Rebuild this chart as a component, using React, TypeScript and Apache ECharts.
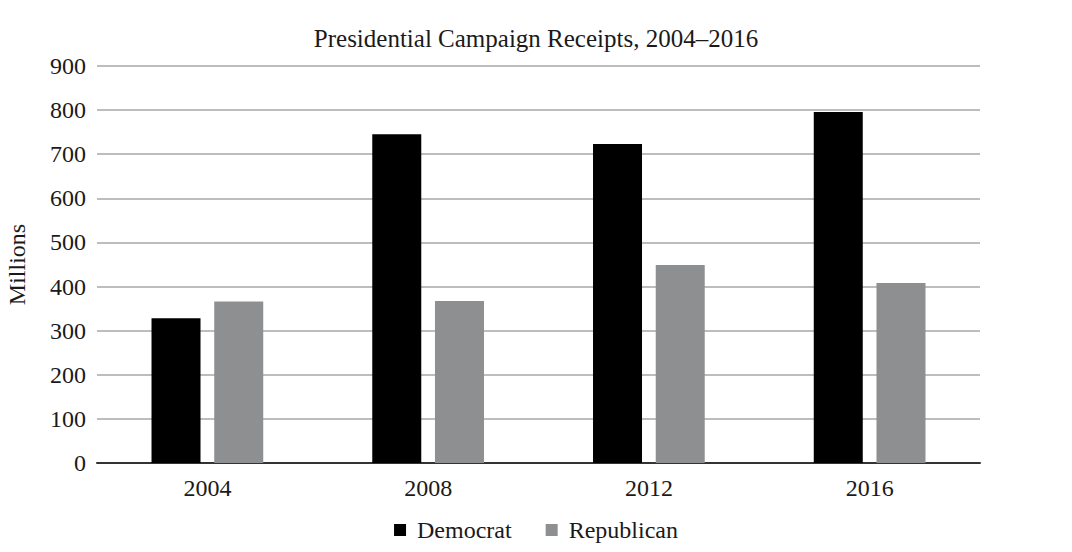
import React, { useEffect, useRef } from "react";
import * as echarts from "echarts";

const categories = ["2004", "2008", "2012", "2016"];
const democrat = [328, 745, 723, 796];
const republican = [366, 367, 449, 408];
const yTicks = { min: 0, max: 900, interval: 100 };

const FONT = "'Liberation Serif', 'Times New Roman', serif";
const TXT = "#1a1a1a";

export default function App() {
  const ref = useRef<HTMLDivElement>(null);
  useEffect(() => {
    if (!ref.current) return;
    const chart = echarts.init(ref.current, undefined, { renderer: "svg" });
    chart.setOption({
      animation: false,
      backgroundColor: "#fff",
      textStyle: { fontFamily: FONT },
      title: {
        text: "Presidential Campaign Receipts, 2004–2016",
        left: "center",
        top: 21,
        textStyle: { fontFamily: FONT, fontSize: 25, fontWeight: "normal", color: TXT },
      },
      legend: {
        top: 518,
        left: "center",
        itemWidth: 12,
        itemHeight: 12,
        itemGap: 34,
        padding: 0,
        icon: "rect",
        textStyle: { fontFamily: FONT, fontSize: 24, color: TXT, padding: [0, 0, 0, 6] },
        data: ["Democrat", "Republican"],
      },
      grid: { left: 97, right: 92, top: 66, bottom: 89, outerBoundsMode: "none", containLabel: false },
      xAxis: {
        type: "category",
        data: categories,
        axisLine: { lineStyle: { color: "#333", width: 2 } },
        axisTick: { show: false },
        axisLabel: { fontFamily: FONT, fontSize: 24, color: TXT, margin: 13 },
      },
      yAxis: {
        type: "value",
        min: yTicks.min,
        max: yTicks.max,
        interval: yTicks.interval,
        name: "Millions",
        nameLocation: "middle",
        nameGap: 68,
        nameTextStyle: { fontFamily: FONT, fontSize: 24, color: TXT },
        axisLine: { show: false },
        axisTick: { show: false },
        axisLabel: { fontFamily: FONT, fontSize: 24, color: TXT, margin: 11 },
        splitLine: { lineStyle: { color: "#bdbdbd", width: 2 } },
      },
      series: [
        {
          name: "Democrat",
          type: "bar",
          data: democrat,
          itemStyle: { color: "#000" },
          barWidth: 49,
          barGap: "28%",
        },
        {
          name: "Republican",
          type: "bar",
          data: republican,
          itemStyle: { color: "#8e8f91" },
          barWidth: 49,
        },
      ],
    });
    return () => chart.dispose();
  }, []);
  return <div ref={ref} style={{ width: 1072, height: 552, margin: -8 }} />;
}
